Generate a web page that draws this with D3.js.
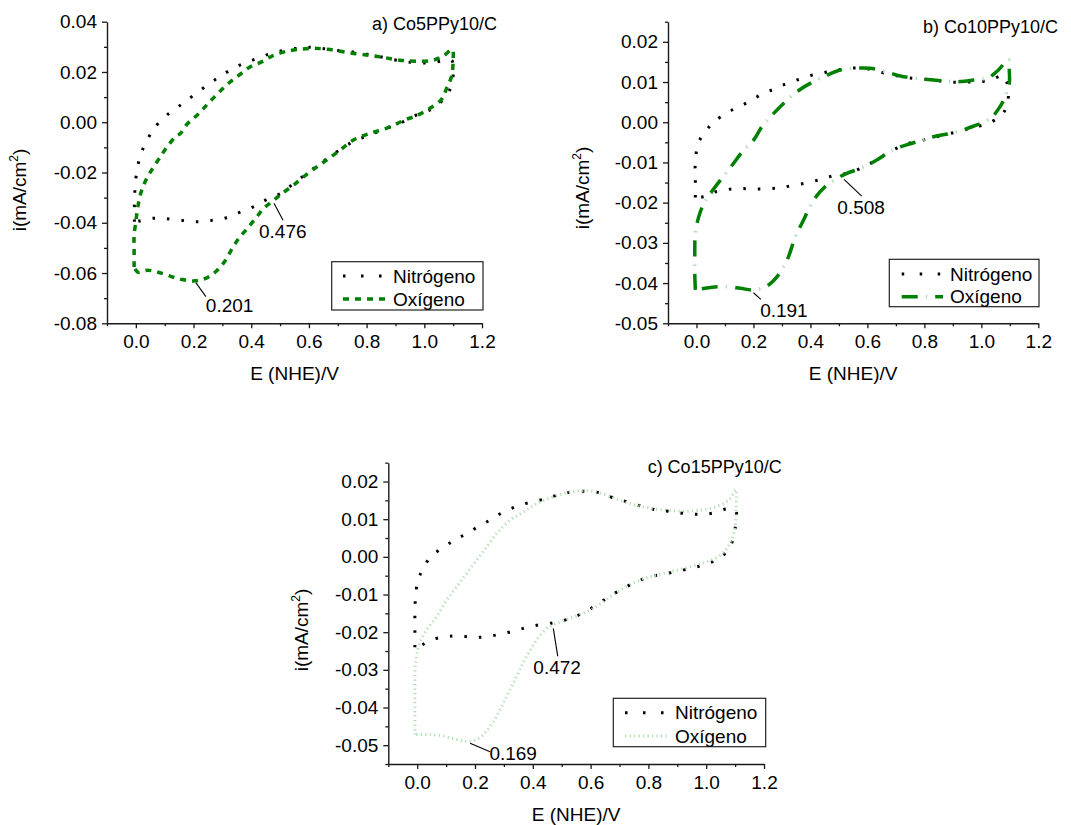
<!DOCTYPE html>
<html>
<head>
<meta charset="utf-8">
<script src="https://cdn.jsdelivr.net/npm/d3@7"></script>
<style>
  html, body { margin: 0; padding: 0; background: #fff; }
  svg text { font-family: "Liberation Sans", Arial, sans-serif; fill: #000; }
</style>
</head>
<body>
<svg id="chart" width="1071" height="825"></svg>
<script>
// ---------------- DATA ----------------
const xMajorTicks = [0.0, 0.2, 0.4, 0.6, 0.8, 1.0, 1.2];
const xMinorTicks = [-0.1, 0.1, 0.3, 0.5, 0.7, 0.9, 1.1];
const yMajorTicksA = [0.04, 0.02, 0.00, -0.02, -0.04, -0.06, -0.08];
const yMinorTicksA = [0.03, 0.01, -0.01, -0.03, -0.05, -0.07];
const yMajorTicksB = [0.02, 0.01, 0.00, -0.01, -0.02, -0.03, -0.04, -0.05];
const yMinorTicksB = [0.025, 0.015, 0.005, -0.005, -0.015, -0.025, -0.035, -0.045];
const yMajorTicksC = [0.02, 0.01, 0.00, -0.01, -0.02, -0.03, -0.04, -0.05];
const yMinorTicksC = [0.025, 0.015, 0.005, -0.005, -0.015, -0.025, -0.035, -0.045, -0.055];

const seriesNames = ["Nitrógeno", "Oxígeno"];
const panelTitles = ["a) Co5PPy10/C", "b) Co10PPy10/C", "c) Co15PPy10/C"];

// Panel a: Co5PPy10/C  [E (V), i (mA/cm2)]
const nitrogenA = [[-0.005,-0.0396],[-0.005,-0.0323],[-0.002,-0.025],[0.006,-0.0177],[0.023,-0.011],[0.046,-0.0057],[0.063,-0.0024],[0.104,0.0025],[0.15,0.0064],[0.196,0.0104],[0.259,0.0157],[0.305,0.0192],[0.354,0.0224],[0.405,0.0247],[0.461,0.0271],[0.518,0.0287],[0.576,0.0297],[0.622,0.0297],[0.685,0.0287],[0.748,0.028],[0.8,0.0271],[0.858,0.0258],[0.904,0.0247],[0.967,0.0237],[1.03,0.0237],[1.094,0.0247],[1.1,0.0214],[1.094,0.0145],[1.065,0.009],[1.03,0.0055],[0.973,0.0029],[0.927,0.0002],[0.87,-0.0024],[0.812,-0.005],[0.754,-0.0077],[0.697,-0.0117],[0.639,-0.0164],[0.593,-0.0204],[0.547,-0.0243],[0.507,-0.028],[0.455,-0.0307],[0.409,-0.0336],[0.357,-0.036],[0.305,-0.0383],[0.254,-0.0392],[0.207,-0.0396],[0.156,-0.039],[0.098,-0.0383],[0.052,-0.0383],[0.0,-0.0396],[-0.005,-0.0396]];
const oxygenA = [[-0.006,-0.0576],[-0.006,-0.0502],[-0.006,-0.0449],[0,-0.0396],[0.006,-0.0343],[0.017,-0.0283],[0.035,-0.023],[0.058,-0.0184],[0.081,-0.0144],[0.109,-0.0097],[0.138,-0.0057],[0.155,-0.0044],[0.178,-0.0007],[0.213,0.0029],[0.242,0.0064],[0.271,0.0099],[0.299,0.0131],[0.328,0.0161],[0.363,0.0192],[0.397,0.0221],[0.438,0.0241],[0.472,0.0263],[0.518,0.0281],[0.558,0.0289],[0.616,0.0294],[0.674,0.0289],[0.743,0.0276],[0.812,0.0266],[0.858,0.0258],[0.915,0.0247],[0.973,0.0243],[1.031,0.0247],[1.065,0.0263],[1.097,0.0289],[1.1,0.0247],[1.094,0.0181],[1.077,0.0134],[1.059,0.009],[1.019,0.0055],[0.979,0.0029],[0.933,0.0009],[0.869,-0.0024],[0.812,-0.0044],[0.754,-0.0071],[0.708,-0.0111],[0.662,-0.015],[0.628,-0.0177],[0.581,-0.0217],[0.547,-0.025],[0.507,-0.0283],[0.478,-0.031],[0.443,-0.0343],[0.415,-0.0383],[0.386,-0.0423],[0.357,-0.0462],[0.334,-0.0502],[0.311,-0.0549],[0.282,-0.0589],[0.248,-0.0618],[0.207,-0.0631],[0.161,-0.0626],[0.121,-0.0613],[0.075,-0.0596],[0.04,-0.0589],[0.006,-0.0596],[-0.006,-0.0576]];

// Panel b: Co10PPy10/C
const nitrogenB = [[-0.004,-0.0187],[-0.004,-0.0142],[-0.004,-0.0096],[0.006,-0.0053],[0.022,-0.0032],[0.055,-0.0003],[0.067,0.0004],[0.107,0.0024],[0.148,0.0038],[0.189,0.0053],[0.23,0.007],[0.271,0.0082],[0.312,0.0095],[0.353,0.0105],[0.394,0.0115],[0.435,0.0121],[0.47,0.0127],[0.505,0.0131],[0.552,0.0135],[0.592,0.0134],[0.633,0.0127],[0.692,0.0117],[0.738,0.0111],[0.797,0.0107],[0.867,0.0102],[0.92,0.0099],[0.978,0.0101],[1.025,0.0103],[1.078,0.0115],[1.095,0.0065],[1.08,0.0026],[1.031,-0.0001],[0.972,-0.0013],[0.914,-0.0024],[0.855,-0.0034],[0.797,-0.0044],[0.738,-0.0054],[0.68,-0.0073],[0.622,-0.0098],[0.575,-0.0115],[0.528,-0.0127],[0.481,-0.0133],[0.441,-0.0141],[0.394,-0.015],[0.347,-0.0156],[0.3,-0.0162],[0.259,-0.0165],[0.207,-0.0166],[0.16,-0.0165],[0.113,-0.0167],[0.067,-0.0173],[0.026,-0.0185],[-0.004,-0.0187]];
const oxygenB = [[-0.004,-0.0417],[-0.006,-0.0376],[-0.006,-0.0326],[-0.004,-0.0276],[0.008,-0.0235],[0.026,-0.0202],[0.049,-0.0177],[0.084,-0.0144],[0.125,-0.0107],[0.166,-0.0069],[0.201,-0.0044],[0.23,-0.0011],[0.271,0.0022],[0.318,0.0055],[0.365,0.0082],[0.411,0.0101],[0.458,0.0117],[0.505,0.013],[0.552,0.0134],[0.61,0.0134],[0.668,0.0125],[0.715,0.0115],[0.773,0.0109],[0.832,0.0105],[0.879,0.0102],[0.925,0.0101],[0.972,0.0105],[1.025,0.0111],[1.06,0.013],[1.095,0.0156],[1.098,0.013],[1.098,0.0096],[1.083,0.0063],[1.065,0.0038],[1.031,0.0009],[0.972,-0.001],[0.902,-0.0026],[0.832,-0.0036],[0.762,-0.0051],[0.692,-0.0068],[0.633,-0.0094],[0.575,-0.0115],[0.528,-0.0127],[0.493,-0.014],[0.452,-0.016],[0.411,-0.0194],[0.376,-0.0243],[0.347,-0.0285],[0.318,-0.0343],[0.283,-0.0384],[0.248,-0.0407],[0.201,-0.0417],[0.154,-0.0413],[0.096,-0.0409],[0.049,-0.0411],[-0.004,-0.0417]];

// Panel c: Co15PPy10/C
const nitrogenC = [[-0.008,-0.024],[-0.008,-0.0206],[-0.008,-0.0157],[-0.006,-0.0109],[0.003,-0.006],[0.017,-0.0037],[0.044,-0.0002],[0.088,0.0024],[0.133,0.0046],[0.167,0.006],[0.213,0.0081],[0.257,0.01],[0.298,0.0119],[0.344,0.0134],[0.387,0.0144],[0.442,0.0154],[0.482,0.0163],[0.534,0.0172],[0.586,0.0174],[0.632,0.017],[0.678,0.0157],[0.736,0.0144],[0.788,0.0132],[0.84,0.0123],[0.869,0.0121],[0.918,0.0116],[0.973,0.0113],[1.022,0.0116],[1.076,0.0128],[1.102,0.0122],[1.1,0.0075],[1.085,0.0031],[1.053,0.0],[1.005,-0.0018],[0.955,-0.0029],[0.903,-0.0038],[0.852,-0.0046],[0.805,-0.0053],[0.759,-0.0066],[0.713,-0.0084],[0.667,-0.0104],[0.638,-0.0119],[0.592,-0.0141],[0.546,-0.0159],[0.511,-0.0168],[0.471,-0.0175],[0.419,-0.0181],[0.367,-0.019],[0.318,-0.02],[0.263,-0.0209],[0.203,-0.0214],[0.145,-0.021],[0.098,-0.0212],[0.047,-0.0221],[0.015,-0.0234],[-0.008,-0.024]];
const oxygenC = [[-0.008,-0.0472],[-0.008,-0.0415],[-0.008,-0.0344],[-0.005,-0.0274],[0.009,-0.0229],[0.032,-0.0194],[0.067,-0.0159],[0.102,-0.0115],[0.136,-0.008],[0.171,-0.0044],[0.205,-0.0009],[0.24,0.0026],[0.275,0.0062],[0.321,0.0097],[0.367,0.0119],[0.413,0.0141],[0.471,0.0159],[0.528,0.0172],[0.586,0.0176],[0.644,0.0167],[0.702,0.015],[0.759,0.0137],[0.817,0.0128],[0.874,0.0123],[0.932,0.0121],[0.99,0.0125],[1.048,0.0137],[1.082,0.0154],[1.103,0.0178],[1.103,0.0132],[1.1,0.0079],[1.082,0.0035],[1.048,0.0004],[0.99,-0.0016],[0.921,-0.0031],[0.852,-0.0044],[0.805,-0.0053],[0.759,-0.0066],[0.713,-0.0084],[0.667,-0.0106],[0.621,-0.0132],[0.575,-0.015],[0.528,-0.0163],[0.482,-0.0177],[0.448,-0.019],[0.413,-0.0221],[0.378,-0.0265],[0.344,-0.0318],[0.309,-0.0371],[0.275,-0.0423],[0.24,-0.0463],[0.205,-0.0485],[0.171,-0.049],[0.136,-0.0485],[0.09,-0.0476],[0.044,-0.0472],[0.009,-0.0472],[-0.008,-0.0472]];

// Peak annotations [E (V), i (mA/cm2), label]
const peaksA = [[0.479, -0.0322, "0.476"], [0.208, -0.0638, "0.201"]];
const peaksB = [[0.518, -0.0142, "0.508"], [0.2, -0.0424, "0.191"]];
const peaksC = [[0.471, -0.019, "0.472"], [0.183, -0.0495, "0.169"]];

// ---------------- DRAWING ----------------
const svg = d3.select("#chart");
const FONT = 19;
const xDomain = [-0.1, 1.2];
const fmtY = v => d3.format(".2f")(v).replace("\u2212", "-");
const fmtX = v => d3.format(".1f")(v).replace("\u2212", "-");

const styles = {
  nitrogen: { stroke: "#000", width: 3, dash: "2.5,12", legendDash: "2.5,15.5" },
  oxygenA: [{ stroke: "#008000", width: 3.5, dash: "6,6" }],
  oxygenB: [{ stroke: "#008000", width: 3.5, dash: "16,17.5" },
            { stroke: "#b4dfb4", width: 3.5, dash: "1.5,32", offset: 9.5 }],
  oxygenC: [{ stroke: "#b3deb3", width: 3, dash: "1.2,3.3" }]
};

const panels = [
  { title: panelTitles[0], xr: [107, 482], yr: [323.3, 21.7], yd: [-0.08, 0.04],
    yMaj: yMajorTicksA, yMin: yMinorTicksA, n2: nitrogenA, o2: oxygenA, o2Style: styles.oxygenA,
    peaks: peaksA,
    peakOffsets: [{ lx: 9, ly: 17, tx: -15, ty: 34.8 }, { lx: 10, ly: 14, tx: 10, ty: 29.8 }],
    titleX: 497, titleY: 30, ylabX: 26, ylabY: 190, xlabY: 380,
    legend: { x0: 331.7, y0: 261.7, x1: 483, y1: 310, r1: 276, r2: 299, s0: 343, s1: 387, tx: 393 } },
  { title: panelTitles[1], xr: [668, 1038.3], yr: [323.3, 21.7], yd: [-0.05, 0.025],
    yMaj: yMajorTicksB, yMin: yMinorTicksB, n2: nitrogenB, o2: oxygenB, o2Style: styles.oxygenB,
    peaks: peaksB,
    peakOffsets: [{ lx: 17.7, ly: 16.7, tx: -6.7, ty: 34.8 }, { lx: 7.4, ly: 6.6, tx: 6.7, ty: 24.1 }],
    titleX: 1058, titleY: 33, ylabX: 589, ylabY: 188, xlabY: 380,
    legend: { x0: 889.3, y0: 259.3, x1: 1039, y1: 306.7, r1: 274, r2: 296.7, s0: 901.7, s1: 943, tx: 950 } },
  { title: panelTitles[2], xr: [388.3, 764], yr: [764, 462.7], yd: [-0.055, 0.025],
    yMaj: yMajorTicksC, yMin: yMinorTicksC, n2: nitrogenC, o2: oxygenC, o2Style: styles.oxygenC,
    peaks: peaksC,
    peakOffsets: [{ lx: 4.4, ly: 27.7, tx: -20, ty: 45.2 }, { lx: 20, ly: 8.4, tx: 19.3, ty: 16.8 }],
    titleX: 781.7, titleY: 472.7, ylabX: 308, ylabY: 630, xlabY: 821,
    legend: { x0: 613.3, y0: 698.3, x1: 765.7, y1: 746.7, r1: 712.7, r2: 736, s0: 625, s1: 668, tx: 675 } }
];

function styleAxis(sel) {
  sel.selectAll(".domain").attr("stroke", "#1a1a1a").attr("stroke-width", 1.4);
  sel.selectAll(".tick line").attr("stroke", "#1a1a1a").attr("stroke-width", 1.3);
  sel.selectAll(".tick text").attr("font-size", FONT)
     .attr("font-family", "'Liberation Sans', Arial, sans-serif").attr("fill", "#000");
}

function drawPanel(p) {
  const g = svg.append("g");
  const x = d3.scaleLinear().domain(xDomain).range(p.xr);
  const y = d3.scaleLinear().domain(p.yd).range(p.yr);

  // minor ticks
  g.append("g").attr("transform", `translate(0,${p.yr[0]})`)
    .call(d3.axisBottom(x).tickValues(xMinorTicks).tickSize(3).tickFormat(""))
    .call(s => s.select(".domain").remove()).call(styleAxis);
  g.append("g").attr("transform", `translate(${p.xr[0]},0)`)
    .call(d3.axisLeft(y).tickValues(p.yMin).tickSize(3).tickFormat(""))
    .call(s => s.select(".domain").remove()).call(styleAxis);
  // major ticks
  g.append("g").attr("transform", `translate(0,${p.yr[0]})`)
    .call(d3.axisBottom(x).tickValues(xMajorTicks).tickSize(5).tickSizeOuter(0).tickPadding(6.5).tickFormat(fmtX))
    .call(styleAxis);
  g.append("g").attr("transform", `translate(${p.xr[0]},0)`)
    .call(d3.axisLeft(y).tickValues(p.yMaj).tickSize(5).tickSizeOuter(0).tickPadding(5).tickFormat(fmtY))
    .call(styleAxis);

  const line = d3.line().x(d => x(d[0])).y(d => y(d[1])).curve(d3.curveCatmullRom.alpha(0.5));

  // nitrogen
  g.append("path").datum(p.n2).attr("d", line).attr("fill", "none")
    .attr("stroke", styles.nitrogen.stroke).attr("stroke-width", styles.nitrogen.width)
    .attr("stroke-dasharray", styles.nitrogen.dash);
  // oxygen
  p.o2Style.forEach(st => {
    g.append("path").datum(p.o2).attr("d", line).attr("fill", "none")
      .attr("stroke", st.stroke).attr("stroke-width", st.width)
      .attr("stroke-dasharray", st.dash).attr("stroke-dashoffset", st.offset || 0);
  });

  // peak annotations
  p.peaks.forEach((pk, i) => {
    const o = p.peakOffsets[i];
    const px = x(pk[0]), py = y(pk[1]);
    g.append("line").attr("x1", px).attr("y1", py).attr("x2", px + o.lx).attr("y2", py + o.ly)
      .attr("stroke", "#000").attr("stroke-width", 1.1);
    g.append("text").attr("x", px + o.tx).attr("y", py + o.ty).attr("font-size", FONT).text(pk[2]);
  });

  // title
  g.append("text").attr("x", p.titleX).attr("y", p.titleY).attr("text-anchor", "end")
    .attr("font-size", 18).text(p.title);

  // axis labels
  g.append("text").attr("x", (p.xr[0] + p.xr[1]) / 2).attr("y", p.xlabY)
    .attr("text-anchor", "middle").attr("font-size", FONT).text("E (NHE)/V");
  const yl = g.append("text").attr("transform", `translate(${p.ylabX},${p.ylabY}) rotate(-90)`)
    .attr("text-anchor", "middle").attr("font-size", FONT);
  yl.append("tspan").text("i(mA/cm");
  yl.append("tspan").attr("font-size", 12).attr("dy", -8).text("2");
  yl.append("tspan").attr("dy", 8).text(")");

  // legend
  const L = p.legend;
  g.append("rect").attr("x", L.x0).attr("y", L.y0).attr("width", L.x1 - L.x0).attr("height", L.y1 - L.y0)
    .attr("fill", "#fff").attr("stroke", "#222").attr("stroke-width", 1.2);
  g.append("line").attr("x1", L.s0).attr("x2", L.s1).attr("y1", L.r1).attr("y2", L.r1)
    .attr("stroke", styles.nitrogen.stroke).attr("stroke-width", styles.nitrogen.width)
    .attr("stroke-dasharray", styles.nitrogen.legendDash);
  p.o2Style.forEach(st => {
    g.append("line").attr("x1", L.s0).attr("x2", L.s1).attr("y1", L.r2).attr("y2", L.r2)
      .attr("stroke", st.stroke).attr("stroke-width", st.width)
      .attr("stroke-dasharray", st.dash).attr("stroke-dashoffset", st.offset || 0);
  });
  g.append("text").attr("x", L.tx).attr("y", L.r1).attr("dy", "0.35em").attr("font-size", FONT).text(seriesNames[0]);
  g.append("text").attr("x", L.tx).attr("y", L.r2).attr("dy", "0.35em").attr("font-size", FONT).text(seriesNames[1]);
}

panels.forEach(drawPanel);
</script>
</body>
</html>
